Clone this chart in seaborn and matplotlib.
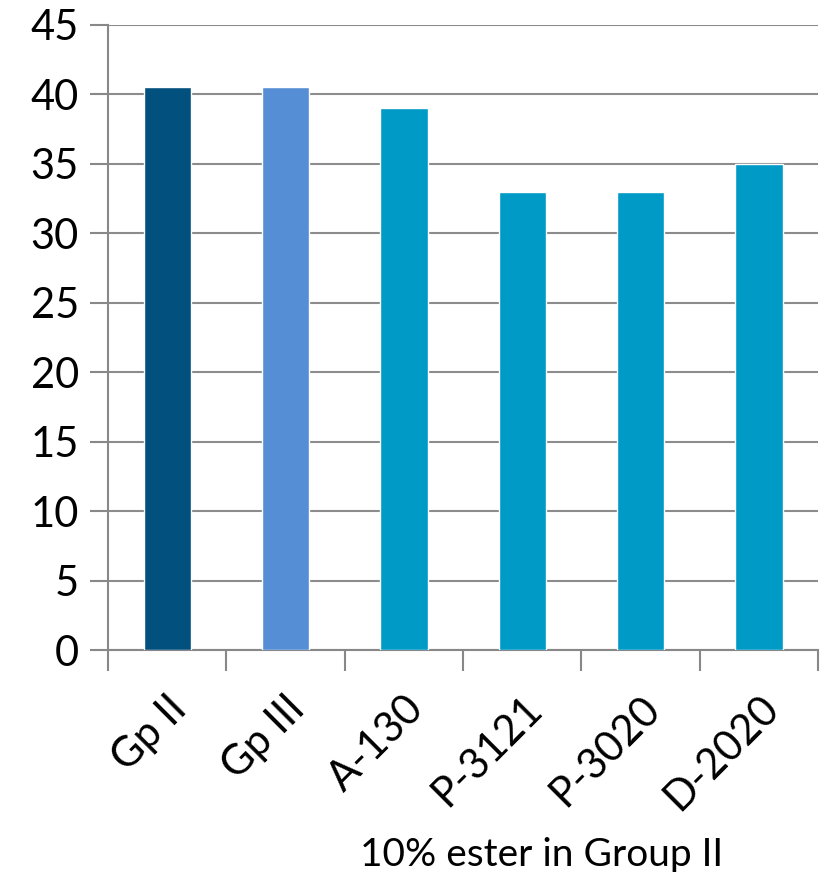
import matplotlib
matplotlib.use('Agg')
import matplotlib.pyplot as plt
import seaborn as sns
import numpy as np
import pandas as pd

categories = ['Gp II', 'Gp III', 'A-130', 'P-3121', 'P-3020', 'D-2020']
values = [40.5, 40.5, 39, 33, 33, 35]
bar_colors = ['#02507D', '#558ED5', '#009AC6', '#009AC6', '#009AC6', '#009AC6']
y_ticks = list(range(0, 50, 5))


def make_plot():
    sns.set_style('white')
    plt.rcParams['font.family'] = ['Lato', 'DejaVu Sans']
    plt.rcParams['text.color'] = 'black'
    plt.rcParams['xtick.labelcolor'] = 'black'
    plt.rcParams['ytick.labelcolor'] = 'black'
    df = pd.DataFrame({'cat': categories, 'val': values})

    fig = plt.figure(figsize=(8.23, 8.72), dpi=100)
    ax = fig.add_axes([108 / 823, 1 - 650 / 872, 710 / 823, 625 / 872])

    sns.barplot(data=df, x='cat', y='val', hue='cat', palette=bar_colors,
                width=0.4, legend=False, saturation=1, ax=ax, zorder=3)

    ax.set_ylim(0, 45)
    ax.set_xlim(-0.5, len(categories) - 0.5)
    ax.set_yticks(y_ticks)
    ax.yaxis.grid(True, color='#8c8c8c', linewidth=1.5)
    ax.set_axisbelow(True)
    ax.tick_params(axis='y', left=True, labelsize=30, length=13, width=1.5,
                   color='#888888', labelcolor='black', direction='out', pad=8)
    ax.set_xticks(range(len(categories)))
    ax.set_xticklabels(categories, rotation=45, ha='right',
                       rotation_mode='anchor', fontsize=30)
    ax.tick_params(axis='x', which='major', bottom=True, length=0, pad=28,
                   labelcolor='black')
    ax.set_xticks(np.arange(-0.5, len(categories), 1), minor=True)
    ax.tick_params(axis='x', which='minor', bottom=True, length=15, width=1.5,
                   color='#888888', direction='out')

    for side in ['top', 'right']:
        ax.spines[side].set_visible(False)
    for side in ['left', 'bottom']:
        ax.spines[side].set_color('#888888')
        ax.spines[side].set_linewidth(1.5)

    ax.set_xlabel('')
    ax.set_ylabel('')
    fig.text(542 / 823, 1 - 855 / 872, '10% ester in Group II',
             ha='center', va='center', fontsize=28, color='black')
    return fig


if __name__ == '__main__':
    fig = make_plot()
    fig.savefig('out.png', dpi=100)
    plt.close()
